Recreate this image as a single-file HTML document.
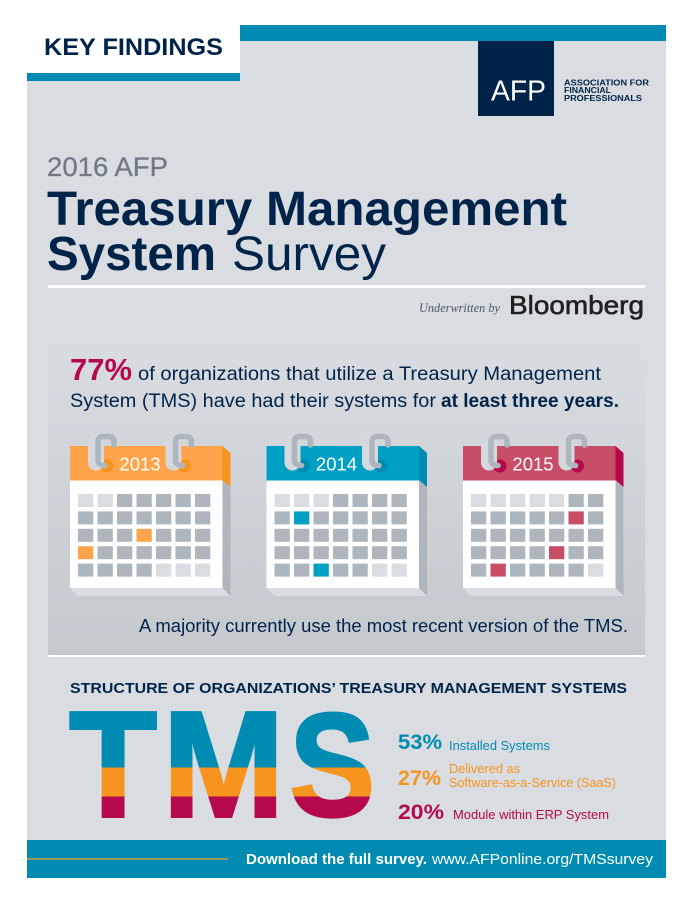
<!DOCTYPE html>
<html>
<head>
<meta charset="utf-8">
<title>2016 AFP Treasury Management System Survey</title>
<style>
html,body{margin:0;padding:0;background:#fff;}
svg{display:block;}
text{font-family:"Liberation Sans",sans-serif;}
</style>
</head>
<body>
<svg id="page" width="693" height="900" viewBox="0 0 693 900" xmlns="http://www.w3.org/2000/svg">
<defs>
<linearGradient id="panelGrad" x1="0" y1="0" x2="0" y2="1">
<stop offset="0" stop-color="#d9dce1"/>
<stop offset="1" stop-color="#c4c9ce"/>
</linearGradient>
<linearGradient id="tmsGrad" gradientUnits="userSpaceOnUse" x1="0" y1="711" x2="0" y2="818"></linearGradient>
</defs>

<rect x="27" y="25" width="639" height="853" fill="#d9dce1"/>
<rect x="27" y="25" width="213" height="48" fill="#ffffff"/>
<rect x="27" y="73" width="213" height="8" fill="#008cb2"/>
<rect x="240" y="25" width="426" height="16" fill="#008cb2"/>
<text x="44" y="55" font-size="24.5" font-weight="700" fill="#002349" textLength="179" lengthAdjust="spacingAndGlyphs">KEY FINDINGS</text>

<g>
<rect x="478" y="41" width="76" height="75" fill="#002349"/>
<text x="491" y="100.5" font-size="29" fill="#ffffff" textLength="55" lengthAdjust="spacingAndGlyphs">AFP</text>
<text x="564" y="85.5" font-size="8" font-weight="700" fill="#002349" textLength="85" lengthAdjust="spacingAndGlyphs">ASSOCIATION FOR</text>
<text x="564" y="93.2" font-size="8" font-weight="700" fill="#002349" textLength="47" lengthAdjust="spacingAndGlyphs">FINANCIAL</text>
<text x="564" y="101" font-size="8" font-weight="700" fill="#002349" textLength="78" lengthAdjust="spacingAndGlyphs">PROFESSIONALS</text>
</g>

<text x="47" y="176" font-size="27" fill="#6e7b87" stroke="#6e7b87" stroke-width=".3" textLength="121" lengthAdjust="spacingAndGlyphs">2016 AFP</text>
<text x="47" y="225" font-size="48" font-weight="700" fill="#002349" textLength="520" lengthAdjust="spacingAndGlyphs">Treasury Management</text>
<text x="47" y="270" font-size="48" font-weight="700" fill="#002349" textLength="169" lengthAdjust="spacingAndGlyphs">System</text>
<text x="232" y="270" font-size="48" fill="#002349" textLength="154" lengthAdjust="spacingAndGlyphs">Survey</text>
<rect x="48" y="285" width="597" height="3" fill="#ffffff"/>
<text x="419" y="312" font-size="13" font-style="italic" fill="#4a5a6a" textLength="81" lengthAdjust="spacingAndGlyphs" style="font-family:'Liberation Serif',serif">Underwritten by</text>
<text x="509" y="314" font-size="26" fill="#231f20" stroke="#231f20" stroke-width=".6" textLength="135" lengthAdjust="spacingAndGlyphs">Bloomberg</text>

<rect x="48" y="340" width="597" height="316" fill="url(#panelGrad)"/>
<text x="70" y="380" font-size="31" font-weight="700" fill="#b5094c" textLength="62" lengthAdjust="spacingAndGlyphs">77%</text>
<text x="138" y="380" font-size="19" fill="#002349" textLength="463" lengthAdjust="spacingAndGlyphs">of organizations that utilize a Treasury Management</text>
<text x="70" y="407" font-size="19" fill="#002349" textLength="366" lengthAdjust="spacingAndGlyphs">System (TMS) have had their systems for</text>
<text x="441" y="407" font-size="19" font-weight="700" fill="#002349" textLength="178" lengthAdjust="spacingAndGlyphs">at least three years.</text>

<g id="calendars"></g>

<text x="139" y="632" font-size="18" fill="#002349" textLength="489" lengthAdjust="spacingAndGlyphs">A majority currently use the most recent version of the TMS.</text>
<rect x="48" y="655" width="597" height="2" fill="#ffffff"/>

<text x="70" y="693" font-size="14.5" font-weight="700" fill="#002349" textLength="557" lengthAdjust="spacingAndGlyphs">STRUCTURE OF ORGANIZATIONS’ TREASURY MANAGEMENT SYSTEMS</text>

<g id="tms">
<text x="68.6" y="817" font-size="152.5" font-weight="700" fill="url(#tmsGrad)" stroke="url(#tmsGrad)" stroke-width="2" textLength="89" lengthAdjust="spacingAndGlyphs">T</text>
<text x="162.5" y="816.5" font-size="151" font-weight="700" fill="url(#tmsGrad)" stroke="url(#tmsGrad)" stroke-width="3" textLength="122" lengthAdjust="spacingAndGlyphs">M</text>
<text x="289.5" y="815.7" font-size="147" font-weight="700" fill="url(#tmsGrad)" stroke="url(#tmsGrad)" stroke-width="3" textLength="85.5" lengthAdjust="spacingAndGlyphs">S</text>
</g>

<g id="legend"></g>

<rect x="27" y="840" width="639" height="38" fill="#008cb2"/>
<rect x="27" y="858" width="201" height="2" fill="#a0955c"/>
<text x="246" y="864" font-size="14.5" font-weight="700" fill="#ffffff" textLength="181" lengthAdjust="spacingAndGlyphs">Download the full survey.</text>
<text x="432" y="864" font-size="14.5" fill="#ffffff" textLength="221" lengthAdjust="spacingAndGlyphs">www.AFPonline.org/TMSsurvey</text>
</svg>

<script>
// Calendar data
var years = ['2013', '2014', '2015'];
var blanksBefore = [2, 3, 5];
var blanksAfter = [3, 2, 1];
var highlightedDays = [[17, 21], [8, 30], [12, 25, 29]];
var headerColors = ['#ffa44a', '#00a0c4', '#c84d67'];
var shadeColors = ['#f7941d', '#008cb2', '#b5094c'];

// TMS structure data
var shares = [53, 27, 20];
var shareColors = ['#008cb2', '#f7941d', '#b5094c'];
var shareLabels = [['Installed Systems'], ['Delivered as', 'Software-as-a-Service (SaaS)'], ['Module within ERP System']];

var NS = 'http://www.w3.org/2000/svg';
function make(tag, attrs, parent) {
  var el = document.createElementNS(NS, tag);
  for (var k in attrs) el.setAttribute(k, attrs[k]);
  parent.appendChild(el);
  return el;
}

// Axis functions for the calendars
var calendarLefts = 196.5;
function calX(i) { return 70 + i * calendarLefts; }
function cellX(col) { return 8 + col * 19.5; }
function cellY(row) { return 494 + row * 17.4; }

var calRoot = document.getElementById('calendars');
years.forEach(function (year, c) {
  var x0 = calX(c);
  var g = make('g', {}, calRoot);
  
  

  make('polygon', {points: (x0+152.5)+',480 '+(x0+160.5)+',487 '+(x0+160.5)+',596 '+(x0+152.5)+',588', fill: '#adb5bd'}, g);
  make('polygon', {points: x0+',588 '+(x0+152.5)+',588 '+(x0+160.5)+',596 '+(x0+8)+',596', fill: '#d9dce1'}, g);
  make('polygon', {points: (x0+152.5)+',446 '+(x0+160.5)+',453 '+(x0+160.5)+',487 '+(x0+152.5)+',480', fill: shadeColors[c]}, g);
  make('rect', {x: x0, y: 446, width: 152.5, height: 34.5, fill: headerColors[c]}, g);
  make('rect', {x: x0, y: 480.5, width: 152.5, height: 107.5, fill: '#ffffff'}, g);

  [0, 77.5].forEach(function (dx) {
    var rx = x0 + dx;
    make('circle', {cx: rx + 37, cy: 466, r: 6.5, fill: shadeColors[c]}, g);
    make('rect', {x: rx + 18, y: 434.5, width: 16, height: 36, rx: 8, fill: '#d5d8dd'}, g);
    make('path', {
      d: 'M' + (rx+44) + ' 445V442Q' + (rx+44) + ' 436.5 ' + (rx+38.5) + ' 436.5H' + (rx+33.5) +
         'Q' + (rx+28) + ' 436.5 ' + (rx+28) + ' 442V460Q' + (rx+28) + ' 465.5 ' + (rx+35) + ' 465.5',
      fill: 'none', stroke: '#adb5bd', 'stroke-width': 5.5, 'stroke-linecap': 'round'
    }, g);
  });

  var label = make('text', {x: x0 + 70, y: 470.5, 'font-size': 18.5, fill: '#ffffff', 'text-anchor': 'middle'}, g);
  
  
  label.textContent = year;

  for (var d = 0; d < 35; d++) {
    var col = d % 7;
    var row = Math.floor(d / 7);
    var blank = d < blanksBefore[c] || d >= 35 - blanksAfter[c];
    var hit = highlightedDays[c].indexOf(d) !== -1;
    var cell = make('rect', {
      x: x0 + cellX(col), y: cellY(row), width: 15.3, height: 13,
      fill: hit ? headerColors[c] : (blank ? '#d9dce1' : '#adb5bd')
    }, g);
    
    
  }
});

// Hard colour bands on the TMS letters, sized by the shares
var grad = document.getElementById('tmsGrad');
var total = shares.reduce(function (a, b) { return a + b; }, 0);
var run = 0;
shares.forEach(function (s, i) {
  make('stop', {offset: run / total, 'stop-color': shareColors[i]}, grad);
  run += s;
  make('stop', {offset: run / total, 'stop-color': shareColors[i]}, grad);
});

// Legend
var legendRoot = document.getElementById('legend');
var legendStatY = [749, 785, 819];
var legendStatW = [44, 43, 46];
var legendLabelX = [449, 449, 453];
var legendLabelY = [[750], [773, 787], [819]];
var legendLabelW = [[101], [71, 167], [156]];
shares.forEach(function (s, i) {
  var stat = make('text', {
    x: 398, y: legendStatY[i], 'font-size': 21, 'font-weight': 700, fill: shareColors[i],
    textLength: legendStatW[i], lengthAdjust: 'spacingAndGlyphs'
  }, legendRoot);
  
  
  stat.textContent = s + '%';
  shareLabels[i].forEach(function (line, j) {
    var t = make('text', {
      x: legendLabelX[i], y: legendLabelY[i][j], 'font-size': 12.5, fill: shareColors[i],
      textLength: legendLabelW[i][j], lengthAdjust: 'spacingAndGlyphs'
    }, legendRoot);
    
    
    t.textContent = line;
  });
});
</script>
</body>
</html>
